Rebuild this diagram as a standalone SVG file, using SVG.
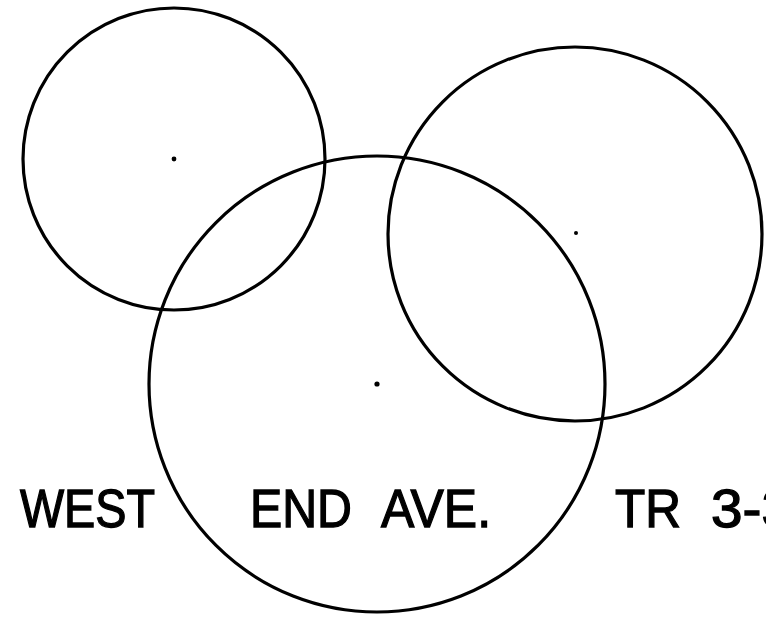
<svg xmlns="http://www.w3.org/2000/svg" width="766" height="619" viewBox="0 0 766 619">
<style>
.c{fill:none;stroke:#000;stroke-width:3.2}
.d{fill:#000}
.t{font-family:"Liberation Sans",Arial,sans-serif;font-size:53px;fill:#000;stroke:#000;stroke-width:1.3}
</style>
<rect width="766" height="619" fill="#fff"/>
<g id="circle-left"><circle class="c" cx="174" cy="159" r="151"/><circle class="d" cx="174" cy="159" r="2.4"/></g>
<g id="circle-center"><circle class="c" cx="377" cy="384" r="228"/><circle class="d" cx="377" cy="384" r="2.6"/></g>
<g id="circle-right"><circle class="c" cx="575" cy="234" r="187"/><circle class="d" cx="576" cy="233" r="2"/></g>
<g id="labels">
<text class="t" x="20" y="527" textLength="135" lengthAdjust="spacingAndGlyphs">WEST</text>
<text class="t" x="250" y="527" textLength="102" lengthAdjust="spacingAndGlyphs">END</text>
<text class="t" x="381" y="527" textLength="110" lengthAdjust="spacingAndGlyphs">AVE.</text>
<text class="t" x="615" y="527" textLength="66" lengthAdjust="spacingAndGlyphs">TR</text>
<text class="t" x="711" y="527" textLength="82" lengthAdjust="spacingAndGlyphs">3-3</text>
</g>
</svg>
